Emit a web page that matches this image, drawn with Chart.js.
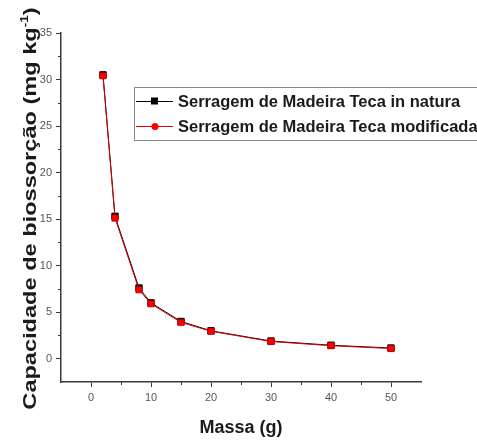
<!DOCTYPE html>
<html>
<head>
<meta charset="utf-8">
<script src="https://cdn.jsdelivr.net/npm/chart.js@4/dist/chart.umd.min.js"></script>
<style>
  html, body { margin: 0; padding: 0; background: #ffffff; }
  #c { display: block; }
</style>
</head>
<body>
<canvas id="c" width="477" height="443"></canvas>
<script>
// ---- data ----
const massa = [2, 4, 8, 10, 15, 20, 30, 40, 50];
const inNatura = [30.5, 15.3, 7.6, 6.0, 4.0, 3.0, 1.9, 1.45, 1.15];
const modificada = [30.4, 15.1, 7.4, 5.9, 3.9, 2.95, 1.85, 1.4, 1.1];
const seriesNames = ['Serragem de Madeira Teca in natura', 'Serragem de Madeira Teca modificada'];
const xMajorTicks = [0, 10, 20, 30, 40, 50];
const yMajorTicks = [0, 5, 10, 15, 20, 25, 30, 35];
const xMinorTicks = [5, 15, 25, 35, 45];
const yMinorTicks = [2.5, 7.5, 12.5, 17.5, 22.5, 27.5, 32.5];
const xTitle = 'Massa (g)';
const yTitleMain = 'Capacidade de biossorção (mg kg';
const yTitleSup = '-1';
const yTitleEnd = ')';

const AXIS = '#3a3a3a';

const toPts = (xs, ys) => xs.map((x, i) => ({ x: x, y: ys[i] }));

const decorPlugin = {
  id: 'decor',
  afterDraw(chart) {
    const ctx = chart.ctx;
    const xs = chart.scales.x, ys = chart.scales.y;
    const ca = chart.chartArea;
    ctx.save();
    // minor ticks
    ctx.strokeStyle = AXIS;
    ctx.lineWidth = 1;
    ctx.beginPath();
    xMinorTicks.forEach(v => {
      const px = Math.round(xs.getPixelForValue(v)) + 0.5;
      ctx.moveTo(px, ca.bottom);
      ctx.lineTo(px, ca.bottom + 3);
    });
    yMinorTicks.forEach(v => {
      const py = Math.round(ys.getPixelForValue(v)) + 0.5;
      ctx.moveTo(ca.left, py);
      ctx.lineTo(ca.left - 3, py);
    });
    ctx.stroke();

    // x title
    ctx.fillStyle = '#1a1a1a';
    ctx.font = 'bold 18px "Liberation Sans", Arial, sans-serif';
    ctx.textAlign = 'center';
    ctx.textBaseline = 'middle';
    ctx.fillText(xTitle, (ca.left + ca.right) / 2, 428);

    // y title (rotated, slightly stretched along its length)
    ctx.save();
    ctx.translate(31, (ca.top + ca.bottom) / 2 + 1);
    ctx.rotate(-Math.PI / 2);
    ctx.scale(1.24, 1);
    const fMain = 'bold 19px "Liberation Sans", Arial, sans-serif';
    const fSup = 'bold 11px "Liberation Sans", Arial, sans-serif';
    ctx.font = fMain;
    const w1 = ctx.measureText(yTitleMain).width;
    const w3 = ctx.measureText(yTitleEnd).width;
    ctx.font = fSup;
    const w2 = ctx.measureText(yTitleSup).width;
    const total = w1 + w2 + w3;
    let x0 = -total / 2;
    ctx.textAlign = 'left';
    ctx.textBaseline = 'middle';
    ctx.font = fMain;
    ctx.fillText(yTitleMain, x0, 0);
    ctx.font = fSup;
    ctx.fillText(yTitleSup, x0 + w1, -6);
    ctx.font = fMain;
    ctx.fillText(yTitleEnd, x0 + w1 + w2, 0);
    ctx.restore();

    // legend box
    const bx = 134, by = 87, bh = 53;
    ctx.strokeStyle = '#8a8a8a';
    ctx.lineWidth = 1;
    ctx.strokeRect(bx + 0.5, by + 0.5, 400, bh);
    const rows = [101, 126];
    chart.data.datasets.forEach((ds, i) => {
      const ry = rows[ds.legendRow];
      ctx.strokeStyle = ds.borderColor;
      ctx.lineWidth = 1;
      ctx.beginPath();
      ctx.moveTo(136, ry + 0.5);
      ctx.lineTo(173, ry + 0.5);
      ctx.stroke();
      ctx.fillStyle = ds.backgroundColor;
      if (ds.legendMarker === 'rect') {
        ctx.fillRect(151, ry - 3.5, 7, 7);
      } else {
        ctx.beginPath();
        ctx.arc(155, ry + 0.5, 3.5, 0, Math.PI * 2);
        ctx.fill();
      }
      ctx.fillStyle = '#1a1a1a';
      ctx.font = 'bold 16.5px "Liberation Sans", Arial, sans-serif';
      ctx.textAlign = 'left';
      ctx.textBaseline = 'middle';
      ctx.fillText(seriesNames[ds.legendRow], 178, ry + 1);
    });
    ctx.restore();
  }
};

new Chart(document.getElementById('c'), {
  type: 'line',
  data: {
    datasets: [
      {
        label: seriesNames[1],
        data: toPts(massa, modificada),
        borderColor: '#e00000',
        backgroundColor: '#ff0000',
        pointBorderColor: '#b00000',
        pointBackgroundColor: '#ff0000',
        pointStyle: 'rect',
        pointRadius: 4.5,
        pointBorderWidth: 0.5,
        borderWidth: 1,
        tension: 0,
        order: 0,
        legendRow: 1,
        legendMarker: 'circle'
      },
      {
        label: seriesNames[0],
        data: toPts(massa, inNatura),
        borderColor: '#000000',
        backgroundColor: '#000000',
        pointBorderColor: '#000000',
        pointBackgroundColor: '#000000',
        pointStyle: 'rect',
        pointRadius: 4.5,
        borderWidth: 1,
        tension: 0,
        order: 1,
        legendRow: 0,
        legendMarker: 'rect'
      }
    ]
  },
  options: {
    responsive: false,
    animation: false,
    devicePixelRatio: 1,
    layout: { padding: { top: 33, right: 56, bottom: 0, left: 0 } },
    plugins: {
      legend: { display: false },
      tooltip: { enabled: false }
    },
    scales: {
      x: {
        type: 'linear',
        min: -5,
        max: 55,
        afterBuildTicks(scale) { scale.ticks = xMajorTicks.map(v => ({ value: v })); },
        afterFit(scale) { scale.height = 61; },
        grid: { display: true, drawOnChartArea: false, drawTicks: true, tickLength: 5, tickColor: AXIS, tickWidth: 1 },
        border: { display: true, color: AXIS, width: 1.5 },
        ticks: { color: '#555555', padding: 4, font: { family: '"Liberation Sans", Arial, sans-serif', size: 11 }, maxRotation: 0 }
      },
      y: {
        type: 'linear',
        min: -2.5,
        max: 35,
        afterBuildTicks(scale) { scale.ticks = yMajorTicks.map(v => ({ value: v })); },
        afterFit(scale) { scale.width = 61; },
        grid: { display: true, drawOnChartArea: false, drawTicks: true, tickLength: 5, tickColor: AXIS, tickWidth: 1 },
        border: { display: true, color: AXIS, width: 1.5 },
        ticks: { color: '#555555', padding: 4, font: { family: '"Liberation Sans", Arial, sans-serif', size: 11 } }
      }
    }
  },
  plugins: [{
    id: 'bg',
    beforeDraw(chart) {
      const c = chart.ctx;
      c.save();
      c.fillStyle = '#ffffff';
      c.fillRect(0, 0, chart.width, chart.height);
      c.restore();
    }
  }, decorPlugin]
});
</script>
</body>
</html>
